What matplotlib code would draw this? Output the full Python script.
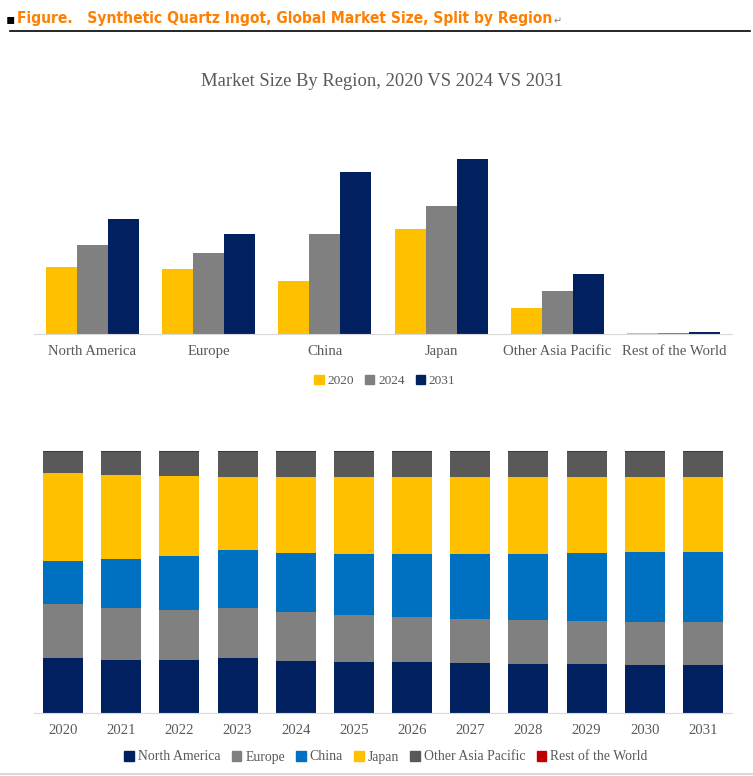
import matplotlib
matplotlib.use("Agg")
import matplotlib.pyplot as plt
from matplotlib.patches import Patch
from matplotlib import font_manager
import numpy as np

regions = ["North America", "Europe", "China", "Japan", "Other Asia Pacific", "Rest of the World"]
years_sel = ["2020", "2024", "2031"]
size_2020 = [67, 65, 53, 105, 26, 1]
size_2024 = [89, 81, 100, 128, 43, 1]
size_2031 = [115, 100, 162, 175, 60, 2]

years = ["2020", "2021", "2022", "2023", "2024", "2025", "2026", "2027", "2028", "2029", "2030", "2031"]
share_na = [21.1, 20.3, 20.3, 21.1, 19.9, 19.6, 19.6, 19.2, 18.8, 18.8, 18.4, 18.4]
share_eu = [20.6, 19.8, 19.1, 19.1, 18.7, 17.9, 17.2, 16.8, 16.8, 16.4, 16.4, 16.4]
share_cn = [16.4, 18.7, 20.6, 22.1, 22.5, 23.3, 24.0, 24.8, 25.2, 25.9, 26.7, 26.7]
share_jp = [33.5, 32.0, 30.5, 27.8, 29.0, 29.4, 29.4, 29.4, 29.4, 29.0, 28.6, 28.6]
share_oap = [8.1, 8.9, 9.3, 9.7, 9.7, 9.6, 9.6, 9.6, 9.6, 9.7, 9.7, 9.7]
share_row = [0.3, 0.3, 0.2, 0.2, 0.2, 0.2, 0.2, 0.2, 0.2, 0.2, 0.2, 0.2]

YELLOW = "#FFC000"
GRAY = "#808080"
NAVY = "#002060"
BLUE = "#0070C0"
DGRAY = "#595959"
RED = "#C00000"
TXT = "#595959"
SERIF = ["Liberation Serif", "DejaVu Serif"]

names = {f.name for f in font_manager.fontManager.ttflist}
if "Liberation Sans Narrow" in names:
    HEAD = dict(family=["Liberation Sans Narrow"], fontsize=12.5)
elif "DejaVu Sans Condensed" in names or any("Condensed" in f.fname and "DejaVuSans" in f.fname for f in font_manager.fontManager.ttflist):
    HEAD = dict(family=["DejaVu Sans"], fontstretch="condensed", fontsize=11.2)
else:
    HEAD = dict(family=["Roboto", "DejaVu Sans"], fontsize=10.6)

W, H = 753, 776
fig = plt.figure(figsize=(W / 100, H / 100), dpi=100)

# Header
fig.text(6 / W, 1 - 19 / H, "\u25aa", color="black", fontsize=10, va="center", ha="left")
t = fig.text(17 / W, 1 - 19 / H, "Figure.   Synthetic Quartz Ingot, Global Market Size, Split by Region",
             color="#FF7F00", fontweight="bold", va="center", ha="left", **HEAD)
fig.canvas.draw()
bb = t.get_window_extent()
fig.text((bb.x1 + 1) / W, 1 - 21 / H, "\u21b5", color="#808080", fontsize=7, va="center", ha="left",
         family=["DejaVu Sans"])
fig.add_artist(plt.Line2D([10 / W, 750 / W], [1 - 31 / H, 1 - 31 / H], color="black", lw=1.2))

# Top chart
ax1 = fig.add_axes([34 / W, 1 - 334 / H, 698 / W, (334 - 150) / H])
x = np.arange(len(regions))
bw = 0.267
ax1.bar(x - bw, size_2020, bw, color=YELLOW, label=years_sel[0])
ax1.bar(x, size_2024, bw, color=GRAY, label=years_sel[1])
ax1.bar(x + bw, size_2031, bw, color=NAVY, label=years_sel[2])
ax1.set_xlim(-0.5, len(regions) - 0.5)
ax1.set_ylim(0, 184)
ax1.set_yticks([])
ax1.set_xticks(x)
ax1.set_xticklabels(regions, family=SERIF, fontsize=10.6, color=TXT)
ax1.tick_params(axis="x", length=0, pad=8)
for s in ["top", "right", "left"]:
    ax1.spines[s].set_visible(False)
ax1.spines["bottom"].set_color("#D9D9D9")
fig.text(382 / W, 1 - 81 / H, "Market Size By Region, 2020 VS 2024 VS 2031", ha="center", va="center",
         family=SERIF, fontsize=13.4, color=TXT)
fig.legend(handles=[Patch(color=YELLOW, label="2020"), Patch(color=GRAY, label="2024"),
                    Patch(color=NAVY, label="2031")],
           loc="center", bbox_to_anchor=(385 / W, 1 - 381 / H), ncol=3, frameon=False,
           prop={"family": SERIF, "size": 9.6}, handlelength=0.7, handleheight=0.7,
           handletextpad=0.3, columnspacing=0.8, labelcolor=TXT)

# Bottom chart
ax2 = fig.add_axes([34 / W, 1 - 713 / H, 698 / W, 262 / H])
xs = np.arange(len(years))
series = [(share_na, NAVY, "North America"), (share_eu, GRAY, "Europe"), (share_cn, BLUE, "China"),
          (share_jp, YELLOW, "Japan"), (share_oap, DGRAY, "Other Asia Pacific"), (share_row, RED, "Rest of the World")]
bottom = np.zeros(len(years))
handles = []
for vals, col, lab in series:
    ax2.bar(xs, vals, 0.69, bottom=bottom, color=col, label=lab)
    bottom += np.array(vals)
    handles.append(Patch(color=col, label=lab))
ax2.set_xlim(-0.5, len(years) - 0.5)
ax2.set_ylim(0, 100)
ax2.set_yticks([])
ax2.set_xticks(xs)
ax2.set_xticklabels(years, family=SERIF, fontsize=10.6, color=TXT)
ax2.tick_params(axis="x", length=0, pad=8)
for s in ["top", "right", "left"]:
    ax2.spines[s].set_visible(False)
ax2.spines["bottom"].set_color("#D9D9D9")
fig.legend(handles=handles, loc="center", bbox_to_anchor=(386 / W, 1 - 757 / H), ncol=6, frameon=False,
           prop={"family": SERIF, "size": 9.9}, handlelength=0.7, handleheight=0.7,
           handletextpad=0.3, columnspacing=0.8, labelcolor=TXT)
fig.add_artist(plt.Line2D([0, 1], [1 - 774 / H, 1 - 774 / H], color="#D9D9D9", lw=1.5))

fig.savefig("out.png", dpi=100)
